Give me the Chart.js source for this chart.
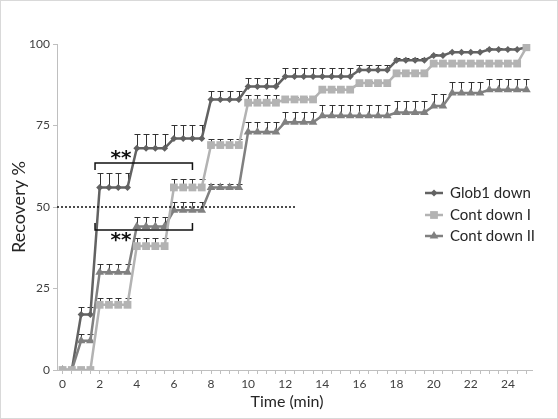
<!DOCTYPE html>
<html>
<head>
<meta charset="utf-8">
<script src="https://cdn.jsdelivr.net/npm/chart.js@4.4.0/dist/chart.umd.min.js"></script>
<style>
  html, body { margin: 0; padding: 0; background: #fff; }
  #wrap { width: 558px; height: 419px; position: relative; }
</style>
</head>
<body>
<div id="wrap"><canvas id="recoveryChart"></canvas></div>
<script>
// time points (min)
var times = [0, 0.5, 1, 1.5, 2, 2.5, 3, 3.5, 4, 4.5, 5, 5.5, 6, 6.5, 7, 7.5, 8, 8.5, 9, 9.5,
  10, 10.5, 11, 11.5, 12, 12.5, 13, 13.5, 14, 14.5, 15, 15.5, 16, 16.5, 17, 17.5, 18, 18.5, 19, 19.5,
  20, 20.5, 21, 21.5, 22, 22.5, 23, 23.5, 24, 24.5, 25];

var seriesNames = ['Glob1 down', 'Cont down I', 'Cont down II'];

var glob1Down = [0, 0, 17, 17, 56, 56, 56, 56, 68, 68, 68, 68, 71, 71, 71, 71, 83, 83, 83, 83,
  87, 87, 87, 87, 90, 90, 90, 90, 90, 90, 90, 90, 92, 92, 92, 92, 95, 95, 95, 95,
  96.5, 96.5, 97.5, 97.5, 97.5, 97.5, 98.3, 98.3, 98.3, 98.3, 99];
var glob1Err = [0, 0, 2.3, 2.3, 4.3, 4.3, 4.3, 4.3, 4.3, 4.3, 4.3, 4.3, 4.1, 4.1, 4.1, 4.1, 2.6, 2.6, 2.6, 2.6,
  2.7, 2.7, 2.7, 2.7, 2.6, 2.6, 2.6, 2.6, 2.6, 2.6, 2.6, 2.6, 1.6, 1.6, 1.6, 1.6, 0.6, 0.6, 0.6, 0.6,
  0.5, 0.5, 0.5, 0.5, 0.5, 0.5, 0.4, 0.4, 0.4, 0.4, 0];

var contDownI = [0, 0, 0, 0, 20, 20, 20, 20, 38, 38, 38, 38, 56, 56, 56, 56, 69, 69, 69, 69,
  82, 82, 82, 82, 83, 83, 83, 83, 86, 86, 86, 86, 88, 88, 88, 88, 91, 91, 91, 91,
  94, 94, 94, 94, 94, 94, 94, 94, 94, 94, 99];
var contIErr = [0, 0, 0, 0, 2, 2, 2, 2, 2.6, 2.6, 2.6, 2.6, 2.6, 2.6, 2.6, 2.6, 1.8, 1.8, 1.8, 1.8,
  2.4, 2.4, 2.4, 2.4, 0.8, 0.8, 0.8, 0.8, 0.6, 0.6, 0.6, 0.6, 0.6, 0.6, 0.6, 0.6, 0.5, 0.5, 0.5, 0.5,
  0.5, 0.5, 0.5, 0.5, 0.5, 0.5, 0.5, 0.5, 0.5, 0.5, 0];

var contDownII = [0, 0, 9, 9, 30, 30, 30, 30, 44, 44, 44, 44, 49, 49, 49, 49, 56, 56, 56, 56,
  73, 73, 73, 73, 76, 76, 76, 76, 78, 78, 78, 78, 78, 78, 78, 78, 79, 79, 79, 79,
  81, 81, 85, 85, 85, 85, 86, 86, 86, 86, 86];
var contIIErr = [0, 0, 2, 2, 2.4, 2.4, 2.4, 2.4, 2.8, 2.8, 2.8, 2.8, 2.5, 2.5, 2.5, 2.5, 1.2, 1.2, 1.2, 1.2,
  3, 3, 3, 3, 3, 3, 3, 3, 3.2, 3.2, 3.2, 3.2, 3.2, 3.2, 3.2, 3.2, 3.4, 3.4, 3.4, 3.4,
  3.7, 3.7, 3.4, 3.4, 3.4, 3.4, 3.4, 3.4, 3.4, 3.4, 3.4];

var yTicks = [0, 25, 50, 75, 100];
var xLabels = [0, 2, 4, 6, 8, 10, 12, 14, 16, 18, 20, 22, 24];
var xTitle = 'Time (min)';

// annotations (data units)
var thresholdY = 50, thresholdTo = 12.6;
var sigFrom = 1.75, sigTo = 7;
var sigTopY = 63.5, sigBottomY = 43;

function pts(vals) {
  return times.map(function(t, i) { return { x: t, y: vals[i] }; });
}

var FONT = 'Lato, "Open Sans", sans-serif';
var colGlob = '#626262', colI = '#b3b3b3', colII = '#808080';

var extras = {
  id: 'extras',
  beforeDatasetsDraw: function(chart) {
    // error bars (upper only)
    var ctx = chart.ctx, xs = chart.scales.x, ys = chart.scales.y;
    ctx.save();
    ctx.strokeStyle = '#333';
    ctx.lineWidth = 1;
    chart.data.datasets.forEach(function(ds) {
      ds.data.forEach(function(p, i) {
        var e = ds.errs[i];
        if (!e) return;
        var px = Math.round(xs.getPixelForValue(p.x)) + 0.5;
        var py = ys.getPixelForValue(p.y);
        var pt = Math.round(ys.getPixelForValue(p.y + e)) + 0.5;
        ctx.beginPath();
        ctx.moveTo(px, py);
        ctx.lineTo(px, pt);
        ctx.moveTo(px - 3, pt);
        ctx.lineTo(px + 3, pt);
        ctx.stroke();
      });
    });
    ctx.restore();
  },
  afterDraw: function(chart) {
    var ctx = chart.ctx, xs = chart.scales.x, ys = chart.scales.y;
    ctx.save();
    // dotted 50% line
    ctx.strokeStyle = '#111';
    ctx.lineWidth = 1.5;
    ctx.setLineDash([2, 2]);
    var yl = Math.round(ys.getPixelForValue(thresholdY));
    ctx.beginPath();
    ctx.moveTo(chart.chartArea.left, yl);
    ctx.lineTo(xs.getPixelForValue(thresholdTo), yl);
    ctx.stroke();
    ctx.setLineDash([]);

    // significance brackets
    var x1 = xs.getPixelForValue(sigFrom), x2 = xs.getPixelForValue(sigTo);
    var yt = Math.round(ys.getPixelForValue(sigTopY));
    ctx.beginPath();
    ctx.moveTo(x1, yt + 7); ctx.lineTo(x1, yt); ctx.lineTo(x2, yt); ctx.lineTo(x2, yt + 7);
    ctx.stroke();
    var yb = Math.round(ys.getPixelForValue(sigBottomY));
    ctx.beginPath();
    ctx.moveTo(x1, yb - 7); ctx.lineTo(x1, yb); ctx.lineTo(x2, yb); ctx.lineTo(x2, yb - 7);
    ctx.stroke();

    ctx.fillStyle = '#111';
    ctx.font = 'bold 20px "DejaVu Sans", sans-serif';
    ctx.textAlign = 'center';
    ctx.textBaseline = 'alphabetic';
    ctx.fillText('**', x1 + 26, yt + 1);
    ctx.fillText('**', x1 + 26, yb + 16);

    // x axis title
    ctx.font = '16px ' + FONT;
    ctx.fillStyle = '#262626';
    ctx.textBaseline = 'middle';
    ctx.fillText(xTitle, 287, 402);

    // legend
    var rows = [193, 215, 236];
    ctx.font = '15px ' + FONT;
    ctx.textAlign = 'left';
    chart.data.datasets.forEach(function(ds, i) {
      var y = rows[i];
      ctx.strokeStyle = ds.borderColor;
      ctx.lineWidth = 2.5;
      ctx.beginPath();
      ctx.moveTo(425, y); ctx.lineTo(443, y);
      ctx.stroke();
      ctx.fillStyle = ds.backgroundColor;
      Chart.helpers.drawPoint(ctx, { pointStyle: ds.pointStyle, radius: ds.pointRadius, rotation: 0, borderWidth: 0 }, 434, y);
      ctx.fillStyle = '#262626';
      ctx.fillText(ds.label, 450, y);
    });

    // chart frame
    ctx.strokeStyle = '#d9d9d9';
    ctx.lineWidth = 1;
    ctx.strokeRect(0.5, 0.5, chart.width - 1, chart.height - 1);
    ctx.restore();
  }
};

Chart.register(extras);

var ctx = document.getElementById('recoveryChart').getContext('2d');
var recoveryChart = new Chart(ctx, {
  type: 'line',
  data: {
    datasets: [{
      label: seriesNames[0],
      data: pts(glob1Down),
      errs: glob1Err,
      borderColor: colGlob,
      backgroundColor: colGlob,
      borderWidth: 2.5,
      pointStyle: 'rectRot',
      pointRadius: 3.5,
      pointBorderWidth: 0,
      order: 2
    }, {
      label: seriesNames[1],
      data: pts(contDownI),
      errs: contIErr,
      borderColor: colI,
      backgroundColor: colI,
      borderWidth: 2.5,
      pointStyle: 'rect',
      pointRadius: 5.5,
      pointBorderWidth: 0,
      order: 0
    }, {
      label: seriesNames[2],
      data: pts(contDownII),
      errs: contIIErr,
      borderColor: colII,
      backgroundColor: colII,
      borderWidth: 2.5,
      pointStyle: 'triangle',
      pointRadius: 5,
      pointBorderWidth: 0,
      order: 1
    }]
  },
  options: {
    responsive: true,
    maintainAspectRatio: false,
    animation: false,
    layout: { padding: { top: 44, right: 26, bottom: 0, left: 0 } },
    plugins: {
      legend: { display: false },
      tooltip: { enabled: false }
    },
    scales: {
      x: {
        type: 'linear',
        min: -0.3,
        max: 25.3,
        afterBuildTicks: function(scale) {
          scale.ticks = times.map(function(v) { return { value: v }; });
        },
        afterFit: function(scale) { scale.height = 49; },
        ticks: {
          autoSkip: false,
          maxRotation: 0,
          padding: 3,
          color: '#404040',
          font: { family: FONT, size: 12 },
          callback: function(v) { return xLabels.indexOf(v) >= 0 ? String(v) : ''; }
        },
        grid: { drawOnChartArea: false, drawTicks: true, tickLength: 4, color: '#bfbfbf' },
        border: { color: '#bfbfbf', width: 1 }
      },
      y: {
        min: 0,
        max: 100,
        afterBuildTicks: function(scale) {
          scale.ticks = yTicks.map(function(v) { return { value: v }; });
        },
        afterFit: function(scale) { scale.width = 57; },
        ticks: {
          padding: 3,
          color: '#404040',
          font: { family: FONT, size: 12 }
        },
        grid: { drawOnChartArea: false, drawTicks: true, tickLength: 4, color: '#bfbfbf' },
        border: { color: '#bfbfbf', width: 1 },
        title: {
          display: true,
          text: 'Recovery %',
          color: '#262626',
          font: { family: FONT, size: 18 },
          padding: { top: 8, bottom: 0 }
        }
      }
    }
  }
});
</script>
</body>
</html>
